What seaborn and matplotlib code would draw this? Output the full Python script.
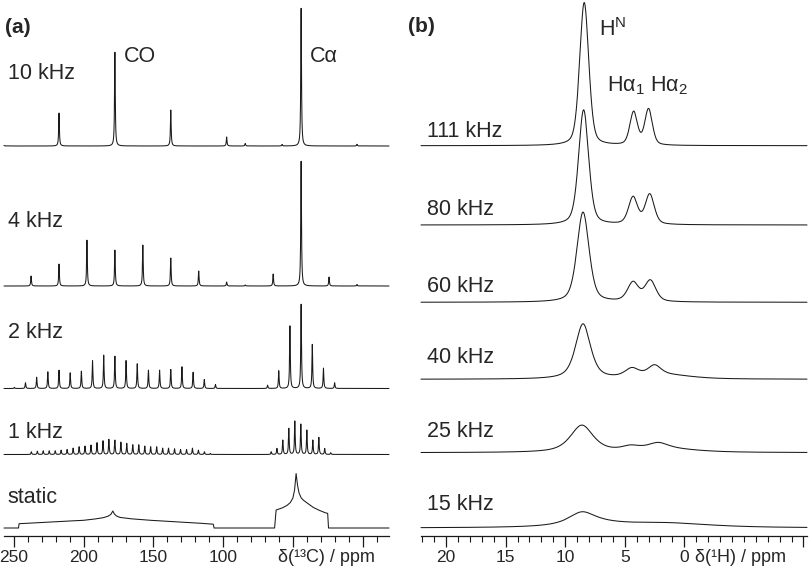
import numpy as np
import seaborn as sns
import matplotlib.pyplot as plt
from matplotlib.ticker import FixedLocator, MultipleLocator

sns.set_theme(style='white')
plt.rcParams['font.family'] = ['Liberation Sans', 'DejaVu Sans']
plt.rcParams['mathtext.fontset'] = 'custom'
plt.rcParams['mathtext.rm'] = 'Liberation Sans'
plt.rcParams['mathtext.it'] = 'Liberation Sans:italic'

# ---- panel (a): 13C spectra, peak lists (ppm, height) ----
c10_pos = [257.6, 217.6, 177.6, 137.6, 97.6, 84.3, 57.9, 44.3, 4.3]
c10_amp = [3, 33, 94, 36, 9, 2.5, 1.5, 138, 1.7]

c4_pos = [237.6, 217.6, 197.6, 177.6, 157.6, 137.6, 117.6, 97.6, 84.3, 64.3, 44.3, 24.3, 4.3]
c4_amp = [10, 22, 46, 36, 41, 28, 15, 4, 1, 12, 125, 9, 1.5]

c2_pos = [249.6, 241.6, 233.6, 225.6, 217.6, 209.6, 201.6, 193.6, 185.6, 177.6,
          169.6, 161.6, 153.6, 145.6, 137.6, 129.6, 121.6, 113.6, 105.6,
          68.3, 60.3, 52.3, 44.3, 36.3, 28.3, 20.3]
c2_amp = [1, 5.7, 11.3, 16.7, 18.3, 15.7, 17.3, 27.7, 33.3, 32.3,
          28, 24.7, 18.3, 18.3, 19, 21.7, 16.3, 9, 4,
          3.3, 17.7, 62.7, 84.3, 44, 20.3, 5.7]

c1_pos = [237.4, 233.1, 228.9, 224.6, 220.3, 216.1, 211.8, 207.5, 203.2, 199.0,
          194.7, 190.4, 186.1, 181.9, 177.6, 173.3, 169.1, 164.8, 160.5, 156.2,
          152.0, 147.7, 143.4, 139.2, 134.9, 130.6, 126.3, 122.1, 117.8, 113.5, 109.3,
          65.7, 61.6, 57.4, 53.1, 48.8, 44.5, 40.2, 35.9, 31.6, 27.4, 23.1]
c1_amp = [2.7, 3.3, 3.7, 3.7, 3.7, 4.3, 5, 6.3, 7.7, 8.3,
          9.3, 11.7, 13.7, 15, 14.3, 12.3, 11, 9.7, 9.7, 8.3,
          7.7, 7.7, 6.3, 6.3, 5.7, 5, 5, 6.3, 4.3, 2.7, 1,
          2.7, 6, 14.3, 26, 33.3, 30.3, 24.3, 14.3, 17, 6, 1.7]

# static powder patterns, read as (ppm, height) points
static_ppm = [257.0, 246.6, 246.2, 230.0, 210.0, 200.0, 192.0, 186.0, 182.5, 180.5, 179.1,
              178.0, 176.5, 174.0, 166.0, 152.0, 140.0, 128.0, 116.0, 107.2, 106.6,
              63.3, 62.2, 58.0, 54.5, 52.0, 50.2, 49.0, 47.9, 46.9, 45.8, 44.2, 42.6,
              38.5, 35.5, 31.0, 27.1, 25.3, 24.7, -18.6]
static_int = [0, 0, 4.3, 5.5, 7.0, 7.7, 9.0, 10.3, 11.8, 13.6, 17.0,
              14.0, 12.0, 10.6, 9.2, 7.7, 6.7, 5.7, 4.7, 3.8, 0,
              0, 18.0, 20.0, 22.5, 25.5, 30.0, 38.0, 54.5, 43.0, 35.0, 30.0, 27.7,
              23.5, 20.5, 17.5, 15.3, 14.6, 0, 0]

c13_labels = ['10 kHz', '4 kHz', '2 kHz', '1 kHz', 'static']

# ---- panel (b): 1H spectra, components (ppm, height, width) ----
h111_pos, h111_amp, h111_w = [8.4, 4.25, 3.0], [143, 33, 36], [0.9, 0.75, 0.75]
h80_pos, h80_amp, h80_w = [8.45, 4.3, 2.9], [115, 27, 30], [1.0, 0.9, 0.9]
h60_pos, h60_amp, h60_w = [8.5, 4.3, 2.85], [90, 19, 21], [1.2, 1.1, 1.1]
h40_pos, h40_amp, h40_w = [8.5, 4.4, 2.5, 1.5], [55, 8.5, 10, 4], [1.5, 1.4, 1.3, 5.0]
h25_pos, h25_amp, h25_w = [8.6, 4.5, 2.2, 1.5], [27, 4, 6, 3.5], [2.3, 1.8, 2.0, 6.0]
h15_pos, h15_amp, h15_w = [8.6, 7.5, 1.5], [11.5, 4, 4.5], [2.6, 6.0, 9.0]
h1_labels = ['111 kHz', '80 kHz', '60 kHz', '40 kHz', '25 kHz', '15 kHz']

# vertical offsets (px above the axis line)
c13_offsets = [390, 250, 147.5, 81.5, 8]
h1_offsets = [390.3, 311, 233.7, 156.7, 83.3, 8]
c13_label_y = [457, 309, 198, 98, 33]
h1_label_y = [399, 321, 244, 173, 99, 26]


def lorentz(x, pos, amp, fwhm):
    y = np.zeros_like(x)
    for p, a in zip(pos, amp):
        y += a * (fwhm / 2) ** 2 / ((x - p) ** 2 + (fwhm / 2) ** 2)
    return y


def pvoigt(x, pos, amp, widths, eta=0.45):
    y = np.zeros_like(x)
    for p, a, w in zip(pos, amp, widths):
        lor = (w / 2) ** 2 / ((x - p) ** 2 + (w / 2) ** 2)
        gau = np.exp(-4 * np.log(2) * (x - p) ** 2 / w ** 2)
        y += a * (eta * lor + (1 - eta) * gau)
    return y


fig = plt.figure(figsize=(8.1, 5.76), dpi=100)
ax_a = fig.add_axes([4 / 810, 40 / 576, 385 / 810, 536 / 576])
ax_b = fig.add_axes([421 / 810, 40 / 576, 386 / 810, 536 / 576])
line_kw = dict(color='#1a1a1a', linewidth=0.75, estimator=None, sort=False)

# panel (a)
xc = np.linspace(-18.6, 257.0, 7000)
c13_sets = [(c10_pos, c10_amp), (c4_pos, c4_amp), (c2_pos, c2_amp), (c1_pos, c1_amp)]
for (pos, amp), off in zip(c13_sets, c13_offsets[:4]):
    sns.lineplot(x=xc, y=off + lorentz(xc, pos, amp, 0.6), ax=ax_a, **line_kw)
sns.lineplot(x=np.array(static_ppm), y=c13_offsets[4] + np.array(static_int), ax=ax_a, **line_kw)

for lab, yy in zip(c13_labels, c13_label_y):
    ax_a.text(254.3, yy, lab, fontsize=15.5, va='baseline')
ax_a.text(171.4, 474, 'CO', fontsize=15.5, va='baseline')
ax_a.text(37.9, 474, 'Cα', fontsize=15.5, va='baseline')
ax_a.text(256.5, 503, '(a)', fontsize=15, fontweight='bold', va='baseline')
ax_a.text(60.7, -26, 'δ(¹³C) / ppm', fontsize=13, va='baseline', ha='left')

ax_a.set_xlim(257.0, -18.6)
ax_a.xaxis.set_major_locator(FixedLocator([250, 200, 150, 100, 50, 0]))
ax_a.set_xticklabels(['250', '200', '150', '100', '', ''])
ax_a.xaxis.set_minor_locator(MultipleLocator(10))

# panel (b)
xh = np.linspace(-10.3, 22.1, 4000)
h1_sets = [(h111_pos, h111_amp, h111_w, 0.35), (h80_pos, h80_amp, h80_w, 0.4),
           (h60_pos, h60_amp, h60_w, 0.45), (h40_pos, h40_amp, h40_w, 0.6),
           (h25_pos, h25_amp, h25_w, 0.7), (h15_pos, h15_amp, h15_w, 0.8)]
for (pos, amp, w, eta), off in zip(h1_sets, h1_offsets):
    sns.lineplot(x=xh, y=off + pvoigt(xh, pos, amp, w, eta), ax=ax_b, **line_kw)

for lab, yy in zip(h1_labels, h1_label_y):
    ax_b.text(21.6, yy, lab, fontsize=15.5, va='baseline')
ax_b.text(7.2, 500, 'H$^{\\rm N}$', fontsize=15.5, va='baseline')
ax_b.text(6.5, 445, 'Hα$_{\\rm 1}$ Hα$_{\\rm 2}$', fontsize=15.5, va='baseline')
ax_b.text(-0.92, -26, 'δ(¹H) / ppm', fontsize=13, va='baseline', ha='left')
fig.text(408 / 810, 1 - 32 / 576, '(b)', fontsize=15, fontweight='bold')

ax_b.set_xlim(22.1, -10.3)
ax_b.xaxis.set_major_locator(FixedLocator([20, 15, 10, 5, 0, -10]))
ax_b.set_xticklabels(['20', '15', '10', '5', '0', ''])
ax_b.xaxis.set_minor_locator(MultipleLocator(1))

for ax in (ax_a, ax_b):
    ax.set_ylim(0, 536)
    ax.set_yticks([])
    ax.set_xlabel('')
    ax.set_ylabel('')
    for s in ('top', 'left', 'right'):
        ax.spines[s].set_visible(False)
    ax.spines['bottom'].set_linewidth(0.9)
    ax.spines['bottom'].set_color('#1a1a1a')
    ax.tick_params(axis='x', which='major', direction='out', length=8, width=0.9,
                   color='#1a1a1a', labelsize=12.5, pad=2, bottom=True)
    ax.tick_params(axis='x', which='minor', direction='out', length=4, width=0.8,
                   color='#1a1a1a', bottom=True)
    ax.patch.set_alpha(0)
    for ln in ax.lines:
        ln.set_clip_on(False)

fig.savefig('out.png', dpi=100)
